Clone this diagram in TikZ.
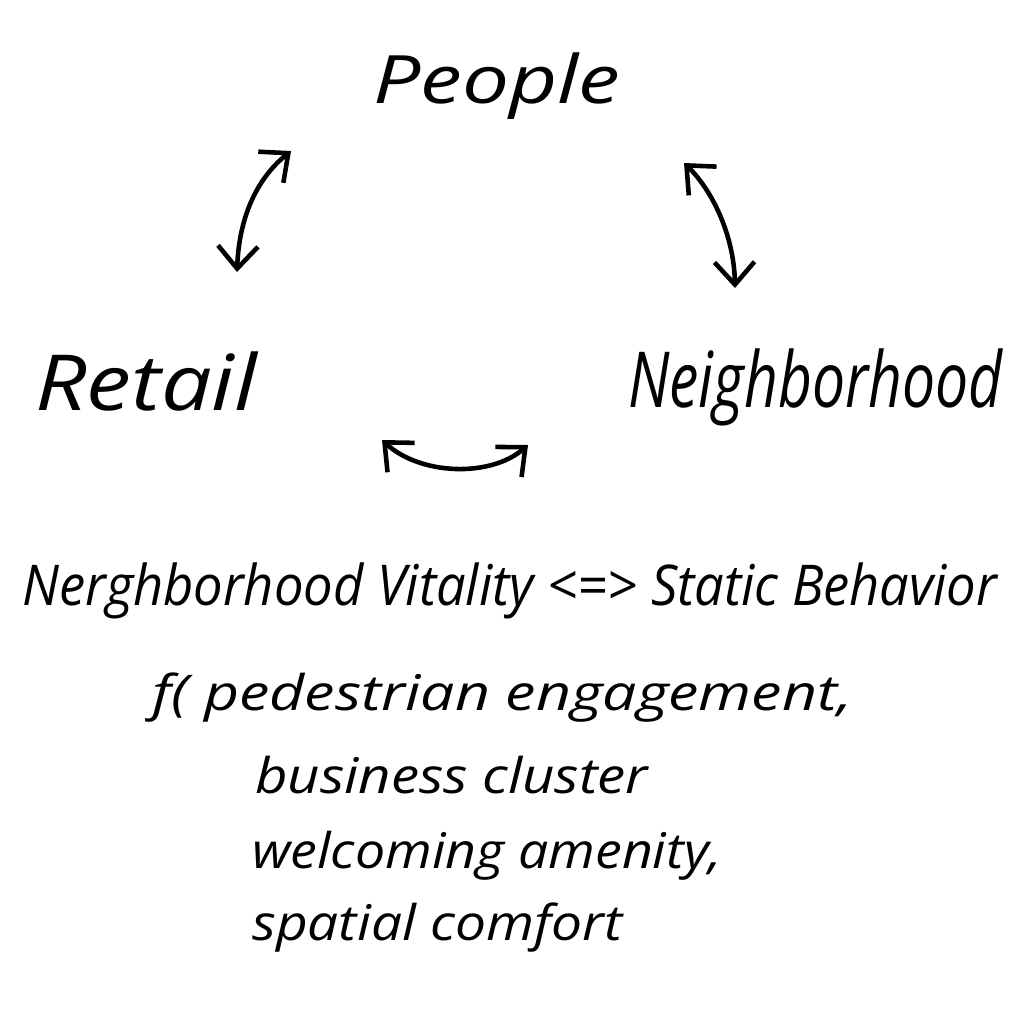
\documentclass[tikz,border=0pt]{standalone}
\usepackage{fontspec}
\setmainfont{Open Sans}
\usepackage{graphicx}
\usetikzlibrary{arrows.meta}
\newcommand{\squeeze}[2]{\resizebox{#1}{\height}{#2}}

\begin{document}
\begin{tikzpicture}[
  x=0.02cm, y=-0.02cm,
  word/.style={inner sep=0pt, anchor=base west},
  big/.style={word, font=\fontsize{44}{48}\selectfont\itshape},
  mid/.style={word, font=\fontsize{32}{36}\selectfont\itshape},
  small/.style={word, font=\fontsize{28}{30}\selectfont\itshape},
  link/.style={{Straight Barb[length=4.5mm,width=8mm]}-{Straight Barb[length=4.5mm,width=8mm]},
               line width=2.6pt, line cap=round, line join=round}
]
  \fill[white] (0,0) rectangle (1026,1018);
  \useasboundingbox (0,0) rectangle (1026,1018);

  % the three parts
  \node[word, font=\fontsize{38}{40}\selectfont\itshape]
    (people) at (373,103) {\squeeze{4.94cm}{People}};
  \node[big] (retail) at (35,410) {\squeeze{4.44cm}{Retail}};
  \node[big] (hood) at (628,407) {\squeeze{7.48cm}{Neighborhood}};

  % arrows between them
  \coordinate (rp1) at (237,272);
  \coordinate (rp2) at (291,151);
  \coordinate (pn1) at (684,163);
  \coordinate (pn2) at (735,288);
  \coordinate (rn1) at (382,440);
  \coordinate (rn2) at (528,445);
  \draw[link] (rp1) .. controls (239,220) and (255,180) .. (rp2);
  \draw[link] (pn1) .. controls (712,190) and (734,235) .. (pn2);
  \draw[link] (rn1) .. controls (420,475) and (490,478) .. (rn2);

  % the formula
  \node[mid] (vital) at (22,605)
    {\squeeze{19.5cm}{Nerghborhood Vitality <=> Static Behavior}};
  \node[small] (f1) at (152,710) {\squeeze{14.0cm}{f( pedestrian engagement,}};
  \node[small] (f2) at (255,793) {\squeeze{7.86cm}{business cluster}};
  \node[small] (f3) at (252,868) {\squeeze{9.4cm}{welcoming amenity,}};
  \node[small] (f4) at (252,940) {\squeeze{7.4cm}{spatial comfort}};
\end{tikzpicture}
\end{document}
